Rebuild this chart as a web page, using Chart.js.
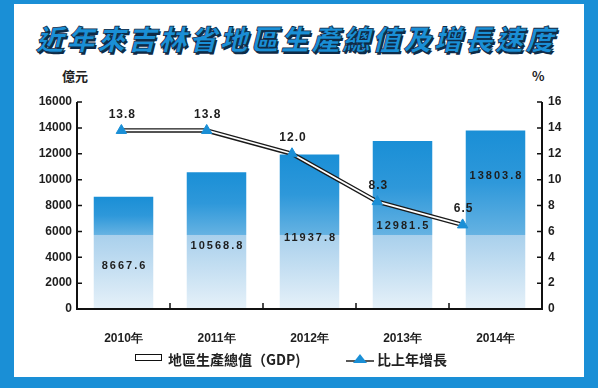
<!DOCTYPE html>
<html>
<head>
<meta charset="utf-8">
<script src="https://cdn.jsdelivr.net/npm/chart.js@4.4.1/dist/chart.umd.min.js"></script>
<style>
  html, body { margin: 0; padding: 0; }
  body {
    width: 598px; height: 388px; overflow: hidden; position: relative;
    background: #1a8fd6;
    font-family: "Noto Sans CJK TC", "Noto Sans", sans-serif;
  }
  #panel { position: absolute; left: 14px; top: 4px; width: 570px; height: 373px; background: #fff; }
  #title {
    position: absolute; left: 0; top: 20px; width: 598px; text-align: center;
  }
  #title span {
    display: inline-block; transform: skewX(-14deg);
    font-size: 28px; font-weight: 900; letter-spacing: 2.6px; line-height: 36px;
    color: #1a8fd6;
    -webkit-text-stroke: 0.8px #0e2a46;
    text-shadow: 2px 2px 0 #0e2a46;
  }
  .unit { position: absolute; font-size: 13px; font-weight: bold; color: #222; line-height: 16px; }
  #chart { position: absolute; left: 0; top: 0; }
  .legend { position: absolute; top: 350px; font-size: 14px; font-weight: bold; color: #222; line-height: 18px; white-space: nowrap; }
  #boxIcon { position: absolute; left: 135px; top: 354px; width: 25px; height: 5px; border: 1.5px solid #111; background: #fff; }
  #lineIcon { position: absolute; left: 346px; top: 352px; }
</style>
</head>
<body>
<div id="panel"></div>
<div id="title"><span>近年來吉林省地區生產總值及增長速度</span></div>
<div class="unit" style="left:62px;top:68px;">億元</div>
<div class="unit" style="left:532px;top:68px;">%</div>
<canvas id="chart" width="598" height="388"></canvas>
<div id="boxIcon"></div>
<div class="legend" style="left:168px;">地區生產總值（GDP)</div>
<svg id="lineIcon" width="30" height="14">
  <line x1="0" y1="9" x2="28" y2="9" stroke="#222" stroke-width="1.5"/>
  <polygon points="14,2 21,11 7,11" fill="#1a8fd6"/>
</svg>
<div class="legend" style="left:377px;">比上年增長</div>

<script>
// 數據
const years = ["2010年", "2011年", "2012年", "2013年", "2014年"];
const gdp = [8667.6, 10568.8, 11937.8, 12981.5, 13803.8];
const growth = [13.8, 13.8, 12.0, 8.3, 6.5];
const gdpTicks = [0, 2000, 4000, 6000, 8000, 10000, 12000, 14000, 16000];
const growthTicks = [0, 2, 4, 6, 8, 10, 12, 14, 16];

// 樣式
const blue = "#1a8fd6";
const ink = "#1e1e1e";
const gdpLabelLevel = [3320, 4870, 5490, 6420, 10280]; // 柱內數字的高度（億元）
const fontNum = '"Liberation Sans", Arial, sans-serif';

function barFill(context) {
  const chart = context.chart;
  const area = chart.chartArea;
  if (!area) return blue;
  const top = chart.scales.y.getPixelForValue(gdp[context.dataIndex]);
  const bottom = area.bottom;
  const stepY = area.bottom - (area.bottom - area.top) * 0.36;
  const s = Math.min(0.99, Math.max(0.01, (stepY - top) / (bottom - top)));
  const g = chart.ctx.createLinearGradient(0, top, 0, bottom);
  g.addColorStop(0, "#1a8fd6");
  g.addColorStop(s * 0.5, "#2e98da");
  g.addColorStop(s, "#65b2e2");
  g.addColorStop(s + 0.005, "#a9d0ec");
  g.addColorStop(1, "#e6f1f9");
  return g;
}

const growthPoints = growth.map((v, i) => ({ x: i, y: v }));

const axisPlugin = {
  id: "axisPlugin",
  afterDatasetsDraw(chart) {
    const { ctx, chartArea: a, scales } = chart;
    ctx.save();
    ctx.strokeStyle = "#111";
    ctx.lineWidth = 2;
    ctx.beginPath();
    ctx.moveTo(a.left, a.top); ctx.lineTo(a.left, a.bottom); ctx.lineTo(a.right, a.bottom); ctx.lineTo(a.right, a.top);
    ctx.stroke();
    ctx.lineWidth = 1.5;
    ctx.beginPath();
    gdpTicks.forEach(v => {
      const y = scales.y.getPixelForValue(v);
      ctx.moveTo(a.left, y); ctx.lineTo(a.left + 5, y);
    });
    growthTicks.forEach(v => {
      const y = scales.y1.getPixelForValue(v);
      ctx.moveTo(a.right - 5, y); ctx.lineTo(a.right, y);
    });
    const half = (a.right - a.left) / years.length / 2;
    for (let i = 0; i < years.length - 1; i++) {
      const x = scales.x.getPixelForValue(i) + half;
      ctx.moveTo(x, a.bottom); ctx.lineTo(x, a.bottom - 6);
    }
    ctx.stroke();

    // 柱內數字
    ctx.fillStyle = ink;
    ctx.textAlign = "center";
    ctx.textBaseline = "middle";
    ctx.font = "bold 11px " + fontNum;
    ctx.letterSpacing = "2px";
    gdp.forEach((v, i) => {
      const x = scales.x.getPixelForValue(i) + 1;
      const y = scales.y.getPixelForValue(gdpLabelLevel[i]);
      ctx.fillText(v.toFixed(1), x, y);
    });

    // 增長率數字
    ctx.font = "bold 12px " + fontNum;
    ctx.letterSpacing = "1px";
    const meta = chart.getDatasetMeta(2);
    growth.forEach((v, i) => {
      const p = meta.data[i];
      ctx.fillText(v.toFixed(1), p.x + 1, p.y - 16);
    });
    ctx.restore();
  }
};

new Chart(document.getElementById("chart"), {
  type: "bar",
  data: {
    labels: years,
    datasets: [
      {
        type: "bar",
        label: "地區生產總值（GDP)",
        data: gdp,
        backgroundColor: barFill,
        borderWidth: 0,
        barPercentage: 0.64,
        categoryPercentage: 1,
        grouped: false,
        yAxisID: "y",
        xAxisID: "x",
        order: 3
      },
      {
        type: "line",
        label: "outline",
        data: growthPoints,
        borderColor: "#1a1a1a",
        borderWidth: 4.5,
        pointRadius: 0,
        tension: 0,
        xAxisID: "x2",
        yAxisID: "y1",
        order: 2
      },
      {
        type: "line",
        label: "比上年增長",
        data: growthPoints,
        borderColor: "#ffffff",
        borderWidth: 1.8,
        pointStyle: "triangle",
        pointRadius: 6,
        pointBackgroundColor: blue,
        pointBorderColor: blue,
        pointBorderWidth: 1,
        tension: 0,
        xAxisID: "x2",
        yAxisID: "y1",
        order: 1
      }
    ]
  },
  options: {
    responsive: false,
    animation: false,
    devicePixelRatio: 1,
    events: [],
    layout: { padding: { left: 14, right: 14, top: 102, bottom: 0 } },
    plugins: { legend: { display: false }, tooltip: { enabled: false } },
    scales: {
      x: {
        type: "category",
        offset: true,
        grid: { display: false },
        border: { display: false },
        ticks: { color: ink, padding: 14, font: { size: 12, weight: "bold", family: fontNum } },
        afterFit(scale) { scale.height = 79; }
      },
      x2: {
        type: "linear",
        display: false,
        offset: false,
        bounds: "data",
        min: -0.52,
        max: 4.93
      },
      y: {
        position: "left",
        min: 0,
        max: 16000,
        grid: { display: false, drawTicks: false },
        border: { display: false },
        ticks: { color: ink, padding: 5, font: { size: 12, weight: "bold", family: fontNum }, callback: v => String(v) },
        afterBuildTicks(scale) { scale.ticks = gdpTicks.map(v => ({ value: v })); },
        afterFit(scale) { scale.width = 63; }
      },
      y1: {
        position: "right",
        min: 0,
        max: 16,
        grid: { display: false, drawTicks: false },
        border: { display: false },
        ticks: { color: ink, padding: 6, font: { size: 12, weight: "bold", family: fontNum }, callback: v => String(v) },
        afterBuildTicks(scale) { scale.ticks = growthTicks.map(v => ({ value: v })); },
        afterFit(scale) { scale.width = 42; }
      }
    }
  },
  plugins: [axisPlugin]
});
</script>
</body>
</html>
